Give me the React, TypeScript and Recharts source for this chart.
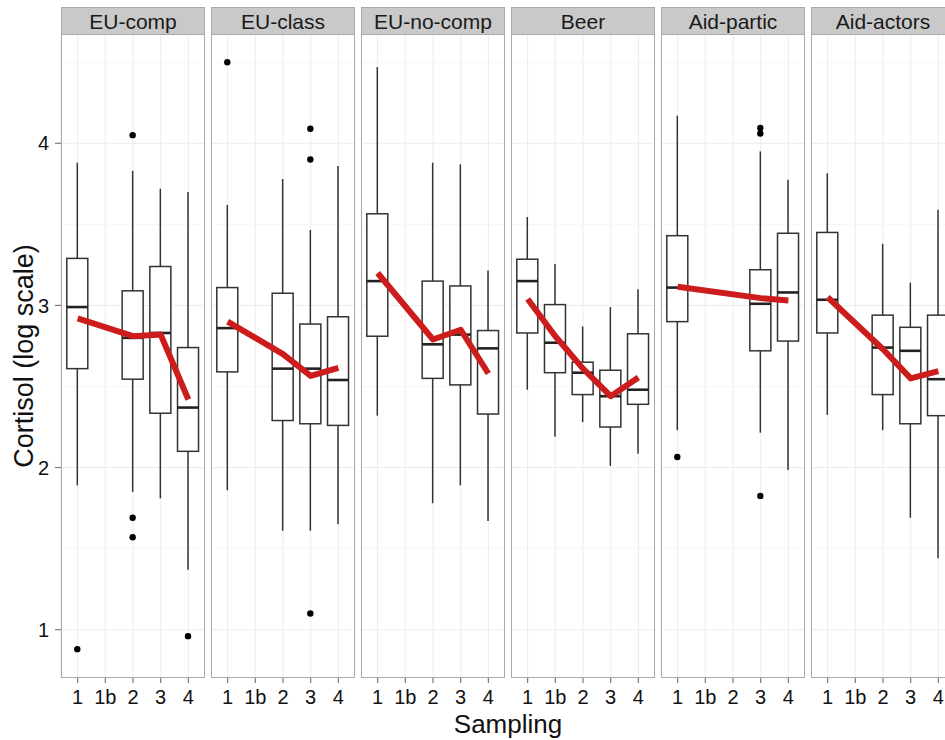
import React from "react";
import { ComposedChart, Bar, Line, XAxis, YAxis, CartesianGrid } from "recharts";

const categories = ["1", "1b", "2", "3", "4"];
const facets = ["EU-comp", "EU-class", "EU-no-comp", "Beer", "Aid-partic", "Aid-actors"];

// one row per facet, one column per sampling (null = no data)
const whiskerLow = [
  [1.89, null, 1.85, 1.81, 1.37],
  [1.86, null, 1.61, 1.61, 1.65],
  [2.32, null, 1.78, 1.89, 1.67],
  [2.48, 2.19, 2.28, 2.01, 2.085],
  [2.23, null, null, 2.215, 1.985],
  [2.325, null, 2.23, 1.69, 1.44],
];
const lowerQuartile = [
  [2.61, null, 2.545, 2.335, 2.1],
  [2.59, null, 2.29, 2.27, 2.26],
  [2.81, null, 2.55, 2.51, 2.33],
  [2.83, 2.585, 2.45, 2.25, 2.39],
  [2.9, null, null, 2.72, 2.78],
  [2.83, null, 2.45, 2.27, 2.32],
];
const median = [
  [2.99, null, 2.8, 2.83, 2.37],
  [2.86, null, 2.61, 2.61, 2.54],
  [3.15, null, 2.76, 2.82, 2.735],
  [3.15, 2.77, 2.585, 2.44, 2.48],
  [3.11, null, null, 3.01, 3.08],
  [3.035, null, 2.74, 2.72, 2.545],
];
const upperQuartile = [
  [3.29, null, 3.09, 3.24, 2.74],
  [3.11, null, 3.075, 2.885, 2.93],
  [3.565, null, 3.15, 3.12, 2.845],
  [3.285, 3.005, 2.65, 2.6, 2.825],
  [3.43, null, null, 3.22, 3.445],
  [3.45, null, 2.94, 2.865, 2.94],
];
const whiskerHigh = [
  [3.88, null, 3.83, 3.72, 3.7],
  [3.62, null, 3.78, 3.465, 3.86],
  [4.47, null, 3.88, 3.87, 3.215],
  [3.545, 3.255, 2.87, 2.99, 3.1],
  [4.17, null, null, 3.95, 3.775],
  [3.815, null, 3.38, 3.14, 3.59],
];
// red line: mean per sampling
const meanLine = [
  [2.92, null, 2.81, 2.82, 2.42],
  [2.9, null, 2.7, 2.565, 2.615],
  [3.2, null, 2.79, 2.85, 2.58],
  [3.04, 2.81, 2.61, 2.44, 2.555],
  [3.115, null, null, 3.045, 3.03],
  [3.05, null, 2.73, 2.55, 2.595],
];
const outliers = [
  [[0.88], [], [4.05, 1.69, 1.57], [], [0.96]],
  [[4.5], [], [], [4.09, 3.9, 1.1], []],
  [[], [], [], [], []],
  [[], [], [], [], []],
  [[2.065], [], [], [4.095, 4.06, 1.825], []],
  [[], [], [], [], []],
];

const yTicks = [1, 2, 3, 4];
const yMinor = [1.5, 2.5, 3.5, 4.5];
const Y_DOMAIN: [number, number] = [0.702, 4.674];

const FONT = '"Liberation Sans", Arial, Helvetica, sans-serif';
const PANEL_LEFT = 61;
const PANEL_STEP = 150;
const PANEL_W = 144;
const PANEL_H = 644;
const PANEL_TOP = 34;
const STRIP_H = 27;
const X_AXIS_H = 40;
const Y_AXIS_W = 61;
const RED = "#cc1c1c";
const BORDER = "#a9a9a9";

// Box + whiskers + outliers, positioned from the bar's [low, high] pixel range
const BoxShape = (props: any) => {
  const { x, y, width, height, payload } = props;
  if (!payload || payload.lo == null) return null;
  const top = Math.min(y, y + height);
  const bottom = Math.max(y, y + height);
  const span = payload.hi - payload.lo;
  const py = (v: number) => bottom - ((v - payload.lo) / span) * (bottom - top);
  const cx = x + width / 2;
  return (
    <g>
      <line x1={cx} x2={cx} y1={py(payload.hi)} y2={py(payload.q3)} stroke="#333" strokeWidth={1.5} />
      <line x1={cx} x2={cx} y1={py(payload.q1)} y2={py(payload.lo)} stroke="#333" strokeWidth={1.5} />
      <rect
        x={x}
        y={py(payload.q3)}
        width={width}
        height={py(payload.q1) - py(payload.q3)}
        fill="#fff"
        stroke="#333"
        strokeWidth={1.5}
      />
      <line x1={x} x2={x + width} y1={py(payload.med)} y2={py(payload.med)} stroke="#222" strokeWidth={2.6} />
      {payload.out.map((v: number, k: number) => (
        <circle key={k} cx={cx} cy={py(v)} r={3.2} fill="#000" />
      ))}
    </g>
  );
};

function Facet({ index }: { index: number }) {
  const rows = categories.map((cat, j) => {
    const lo = whiskerLow[index][j];
    const hi = whiskerHigh[index][j];
    return {
      cat,
      lo,
      hi,
      q1: lowerQuartile[index][j],
      med: median[index][j],
      q3: upperQuartile[index][j],
      mean: meanLine[index][j],
      out: outliers[index][j],
      range: lo == null || hi == null ? null : [lo, hi],
    };
  });
  const first = index === 0;
  const panelLeft = PANEL_LEFT + PANEL_STEP * index;
  const chartLeft = first ? panelLeft - Y_AXIS_W : panelLeft;
  const chartW = first ? PANEL_W + Y_AXIS_W : PANEL_W;

  return (
    <>
      <div
        style={{
          position: "absolute",
          left: panelLeft,
          top: PANEL_TOP - STRIP_H,
          width: PANEL_W,
          height: STRIP_H,
          boxSizing: "border-box",
          background: "#c9c9c9",
          border: `1px solid ${BORDER}`,
          borderBottom: "none",
          fontSize: 21,
          lineHeight: `${STRIP_H}px`,
          textAlign: "center",
          color: "#1a1a1a",
        }}
      >
        {facets[index]}
      </div>
      <div style={{ position: "absolute", left: chartLeft, top: PANEL_TOP }}>
        <ComposedChart
          width={chartW}
          height={PANEL_H + X_AXIS_H}
          data={rows}
          margin={{ top: 0, right: 0, bottom: 0, left: 0 }}
        >
          <CartesianGrid stroke="#ececec" strokeWidth={1} horizontalValues={yTicks} />
          <CartesianGrid stroke="#f6f6f6" strokeWidth={1} vertical={false} horizontalValues={yMinor} />
          <XAxis
            dataKey="cat"
            type="category"
            height={X_AXIS_H}
            padding={{ left: 2.8, right: 2.8 }}
            axisLine={false}
            tickLine={{ stroke: "#7a7a7a", strokeWidth: 1.2 }}
            tickSize={5}
            tickMargin={7}
            tick={{ fill: "#111", fontSize: 20, fontFamily: FONT }}
            interval={0}
          />
          <YAxis
            type="number"
            domain={Y_DOMAIN}
            ticks={yTicks}
            allowDataOverflow
            hide={!first}
            width={Y_AXIS_W}
            axisLine={false}
            tickLine={{ stroke: "#7a7a7a", strokeWidth: 1.2 }}
            tickSize={6}
            tickMargin={6}
            tick={{ fill: "#111", fontSize: 20, fontFamily: FONT }}
          />
          <Bar dataKey="range" barSize={21} shape={BoxShape} isAnimationActive={false} />
          <Line
            dataKey="mean"
            stroke={RED}
            strokeWidth={6}
            strokeLinejoin="round"
            dot={false}
            activeDot={false}
            connectNulls
            isAnimationActive={false}
          />
        </ComposedChart>
      </div>
      <div
        style={{
          position: "absolute",
          left: panelLeft,
          top: PANEL_TOP,
          width: PANEL_W,
          height: PANEL_H,
          boxSizing: "border-box",
          border: `1.5px solid ${BORDER}`,
          pointerEvents: "none",
        }}
      />
    </>
  );
}

export default function App() {
  return (
    <div
      style={{
        position: "fixed",
        left: 0,
        top: 0,
        width: 945,
        height: 740,
        overflow: "hidden",
        background: "#fff",
        fontFamily: FONT,
      }}
    >
      {facets.map((_, i) => (
        <Facet key={i} index={i} />
      ))}
      <div
        style={{
          position: "absolute",
          left: 24,
          top: PANEL_TOP + PANEL_H / 2,
          transform: "translate(-50%, -50%) rotate(-90deg)",
          whiteSpace: "nowrap",
          fontSize: 27,
          color: "#111",
        }}
      >
        Cortisol (log scale)
      </div>
      <div
        style={{
          position: "absolute",
          left: 508,
          top: 711,
          transform: "translateX(-50%)",
          whiteSpace: "nowrap",
          fontSize: 26,
          lineHeight: "26px",
          color: "#111",
        }}
      >
        Sampling
      </div>
    </div>
  );
}
